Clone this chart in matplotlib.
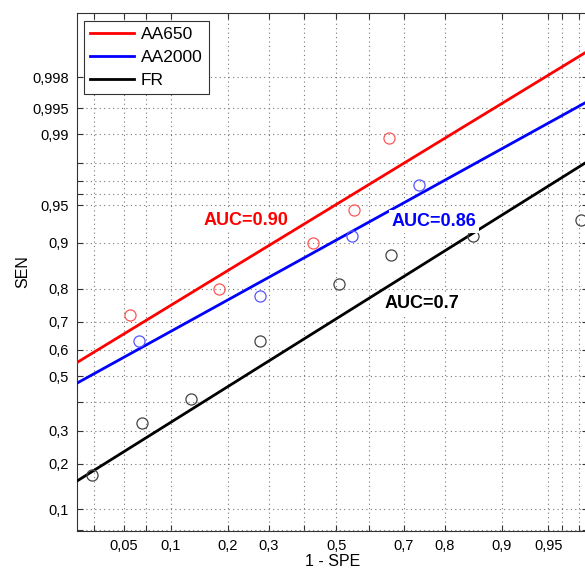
import math
import numpy as np
import matplotlib
matplotlib.use("Agg")
import matplotlib.pyplot as plt
from matplotlib.scale import FuncScale


# binormal fit per reader: TPR = PHI(a + b * PHI^-1(FPR))
series = ["AA650", "AA2000", "FR"]
colors = ["#ff0000", "#0000ff", "#000000"]
point_colors = ["#ff5555", "#5555ff", "#444444"]
fit_a = [1.652, 1.309, 0.552]
fit_b = [0.757, 0.685, 0.777]
auc_text = ["AUC=0.90", "AUC=0.86", "AUC=0.7"]

# operating points (1 - SPE, SEN)
aa650_fpr = [0.055, 0.182, 0.428, 0.556, 0.658]
aa650_sen = [0.723, 0.800, 0.900, 0.945, 0.989]
aa2000_fpr = [0.063, 0.278, 0.548, 0.739]
aa2000_sen = [0.634, 0.780, 0.911, 0.967]
fr_fpr = [0.029, 0.066, 0.131, 0.278, 0.510, 0.665, 0.855, 0.971]
fr_sen = [0.170, 0.325, 0.413, 0.634, 0.813, 0.878, 0.911, 0.933]

x_ticks = [0.03, 0.05, 0.07, 0.1, 0.2, 0.3, 0.4, 0.5, 0.6, 0.7, 0.8, 0.9, 0.95, 0.96, 0.97]
x_labels = ["", "0,05", "", "0,1", "0,2", "0,3", "", "0,5", "", "0,7", "0,8", "0,9", "0,95", "", ""]
y_ticks = [0.07, 0.1, 0.2, 0.3, 0.4, 0.5, 0.6, 0.7, 0.8, 0.9, 0.95, 0.96, 0.97, 0.98, 0.99, 0.995, 0.998]
y_labels = ["", "0,1", "0,2", "0,3", "", "0,5", "0,6", "0,7", "0,8", "0,9", "0,95", "", "", "",
            "0,99", "0,995", "0,998"]


_z = np.linspace(-7, 7, 40001)
_erf = np.vectorize(math.erf)
_p = 0.5 * (1 + _erf(_z / math.sqrt(2)))


def norm_cdf(z):
    return 0.5 * (1 + _erf(np.asarray(z, dtype=float) / math.sqrt(2)))


def norm_ppf(p):
    p = np.clip(np.asarray(p, dtype=float), 1e-12, 1 - 1e-12)
    return np.interp(p, _p, _z)


plt.rcParams['font.family'] = ['Liberation Sans', 'DejaVu Sans']

fig = plt.figure(figsize=(5.85, 5.71), dpi=100)
ax = fig.add_axes([77 / 585, 40.3 / 571, 511 / 585, 517.4 / 571])
ax.set_xscale(FuncScale(ax.xaxis, (norm_ppf, norm_cdf)))
ax.set_yscale(FuncScale(ax.yaxis, (norm_ppf, norm_cdf)))

xlim = (0.02227, 0.9745)
ylim = (0.0685, 0.99976)

fpr_line = norm_cdf(np.linspace(norm_ppf(xlim[0]), norm_ppf(xlim[1]), 200))
for name, c, a, b in zip(series, colors, fit_a, fit_b):
    ax.plot(fpr_line, norm_cdf(a + b * norm_ppf(fpr_line)), color=c, lw=2, label=name, zorder=3)

points = [(aa650_fpr, aa650_sen), (aa2000_fpr, aa2000_sen), (fr_fpr, fr_sen)]
for (fx, fy), pc in zip(points, point_colors):
    ax.plot(fx, fy, 'o', ms=8, mfc='none', mec=pc, mew=0.9, zorder=4)

text_pos = [(0.243, 0.9335), (0.776, 0.9315), (0.747, 0.757)]
for (tx, ty), txt, c in zip(text_pos, auc_text, colors):
    ax.text(tx, ty, txt, color=c, fontsize=13, fontweight='bold', ha='center', va='center',
            zorder=5, bbox=dict(facecolor='white', edgecolor='none', pad=2))

ax.set_xlim(xlim)
ax.set_ylim(ylim)
ax.set_xticks(x_ticks)
ax.set_xticklabels(x_labels, fontsize=10.5)
ax.set_yticks(y_ticks)
ax.set_yticklabels(y_labels, fontsize=10.5)
ax.minorticks_off()
ax.tick_params(direction='in', top=True, right=True, length=4, width=0.8, color='#333333', pad=6)
ax.grid(True, linestyle=(0, (1, 3)), color='#777777', lw=0.8)
for s in ax.spines.values():
    s.set_color('#333333')

ax.set_xlabel("1 - SPE", fontsize=11.5, labelpad=1)
ax.set_ylabel("SEN", fontsize=11.5, labelpad=1)

leg = ax.legend(loc='upper left', fontsize=12.5, handlelength=2.5, handletextpad=0.4,
                labelspacing=0.45, borderaxespad=0.42, fancybox=False, framealpha=1,
                borderpad=0.35)
leg.get_frame().set_edgecolor('#333333')
leg.get_frame().set_linewidth(0.8)

fig.savefig("out.png", dpi=100)
